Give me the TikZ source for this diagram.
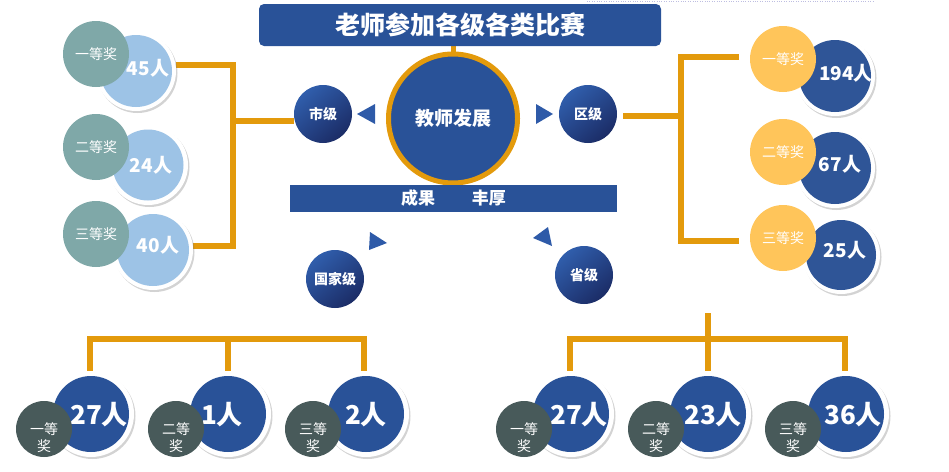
\documentclass[tikz,border=0pt]{standalone}
\usepackage{fontspec}
\setmainfont{Noto Sans CJK SC}
\usetikzlibrary{shadows,backgrounds}
\definecolor{navy}{RGB}{41,82,152}
\definecolor{orng}{RGB}{227,154,12}
\definecolor{ltblue}{RGB}{157,195,230}
\definecolor{tealc}{RGB}{127,168,168}
\definecolor{yel}{RGB}{255,197,90}
\definecolor{midblue}{RGB}{47,85,151}
\definecolor{slate}{RGB}{72,90,90}
\definecolor{balllt}{RGB}{48,94,172}
\definecolor{balldk}{RGB}{27,44,102}
\definecolor{trif}{RGB}{46,90,168}
\definecolor{dotc}{RGB}{190,190,225}
\begin{document}
\begin{tikzpicture}[x=1pt,y=-1pt,
  bar/.style={draw=orng, line width=6pt},
  ringc/.style={circle, fill=white, inner sep=0pt, minimum size=#1,
    drop shadow={opacity=0.35, shadow xshift=1.5pt, shadow yshift=-2pt}},
  disc/.style={circle, inner sep=0pt, minimum size=#1},
  lbl/.style={text=white, font=\fontsize{14}{17}\selectfont, align=center},
  numtxt/.style={text=white, font=\bfseries\fontsize{19}{21}\selectfont, inner sep=0pt},
  bignum/.style={text=white, font=\bfseries\fontsize{26}{28}\selectfont, inner sep=0pt},
  ball/.style={circle, minimum size=58pt, inner sep=0pt, top color=balllt, bottom color=balldk,
    shading angle=40, text=white, font=\bfseries\fontsize{14}{16}\selectfont},
  tri/.style={fill=trif}
]
\useasboundingbox (0,0) rectangle (949,471);
\draw[dotted, dotc] (587,1) -- (873,1);

% title and centre
\node[fill=navy, rounded corners=5pt, minimum width=402pt, minimum height=42pt, inner sep=0pt,
  text=white, font=\bfseries\fontsize{25}{27}\selectfont] (title) at (460,25) {老师参加各级各类比赛};
\node[circle, fill=navy, draw=orng, line width=5pt, minimum size=129pt, inner sep=0pt,
  text=white, font=\bfseries\fontsize{19}{21}\selectfont] (cen) at (453,118.5) {教师发展};
\node[fill=navy, minimum width=327pt, minimum height=27pt, inner sep=0pt,
  text=white, font=\bfseries\fontsize{17}{19}\selectfont] (band) at (453.5,198.5) {成果\hspace{37pt}丰厚};

% level balls
\node[ball] (shi) at (323,114) {市级};
\node[ball] (qu) at (588,114) {区级};
\node[ball] (guo) at (335,279) {国家级};
\node[ball] (sheng) at (584,275) {省级};

% triangles
\fill[tri] (357,114) -- (375,104) -- (375,124) -- cycle;
\fill[tri] (553,114) -- (536,104) -- (536,124) -- cycle;
\fill[tri] (370,232) -- (387,243) -- (369,250) -- cycle;
\fill[tri] (533,238) -- (548,227) -- (552,246) -- cycle;

% left group
\node[ringc=80pt] (a1r) at (136,71) {};
\node[disc=72pt, fill=ltblue] (a1) at (136,71) {};
\node[numtxt] (a1t) at (148,68) {45人};
\node[disc=66pt, fill=tealc, lbl] (a1l) at (96,54) {一等奖};

\node[ringc=80pt] (a2r) at (148,165) {};
\node[disc=71pt, fill=ltblue] (a2) at (148,165) {};
\node[numtxt] (a2t) at (151,165) {24人};
\node[disc=66pt, fill=tealc, lbl] (a2l) at (96,147) {二等奖};

\node[ringc=80pt] (a3r) at (153,250) {};
\node[disc=72pt, fill=ltblue] (a3) at (153,250) {};
\node[numtxt] (a3t) at (158,245) {40人};
\node[disc=66pt, fill=tealc, lbl] (a3l) at (96,234) {三等奖};

% right group
\node[ringc=80pt] (b1r) at (835,76) {};
\node[disc=72pt, fill=midblue] (b1) at (835,76) {};
\node[numtxt] (b1t) at (846,73) {194人};
\node[disc=66pt, fill=yel, lbl] (b1l) at (783,59) {一等奖};

\node[ringc=80pt] (b2r) at (835,168) {};
\node[disc=72pt, fill=midblue] (b2) at (835,168) {};
\node[numtxt] (b2t) at (840,164) {67人};
\node[disc=66pt, fill=yel, lbl] (b2l) at (783,152) {二等奖};

\node[ringc=78pt] (b3r) at (841,255) {};
\node[disc=70pt, fill=midblue] (b3) at (841,255) {};
\node[numtxt] (b3t) at (845,250) {25人};
\node[disc=66pt, fill=yel, lbl] (b3l) at (783,238) {三等奖};

% bottom-left group
\node[ringc=86pt] (c1r) at (91,414) {};
\node[disc=76pt, fill=navy] (c1) at (91,414) {};
\node[bignum] (c1t) at (99,415) {27人};
\node[disc=56pt, fill=slate] (c1l) at (44,429) {};
\node[lbl, inner sep=0pt] (c1lt) at (44,438) {一等\\奖};

\node[ringc=86pt] (c2r) at (228,414) {};
\node[disc=76pt, fill=navy] (c2) at (228,414) {};
\node[bignum] (c2t) at (222,415) {1人};
\node[disc=56pt, fill=slate] (c2l) at (176,429) {};
\node[lbl, inner sep=0pt] (c2lt) at (176,438) {二等\\奖};

\node[ringc=86pt] (c3r) at (366,414) {};
\node[disc=76pt, fill=navy] (c3) at (366,414) {};
\node[bignum] (c3t) at (366,415) {2人};
\node[disc=56pt, fill=slate] (c3l) at (313,429) {};
\node[lbl, inner sep=0pt] (c3lt) at (313,438) {三等\\奖};

% bottom-right group
\node[ringc=86pt] (d1r) at (571,414) {};
\node[disc=76pt, fill=navy] (d1) at (571,414) {};
\node[bignum] (d1t) at (579,415) {27人};
\node[disc=56pt, fill=slate] (d1l) at (524,429) {};
\node[lbl, inner sep=0pt] (d1lt) at (524,438) {一等\\奖};

\node[ringc=86pt] (d2r) at (708,414) {};
\node[disc=76pt, fill=navy] (d2) at (708,414) {};
\node[bignum] (d2t) at (713,415) {23人};
\node[disc=56pt, fill=slate] (d2l) at (656,429) {};
\node[lbl, inner sep=0pt] (d2lt) at (656,438) {二等\\奖};

\node[ringc=86pt] (d3r) at (846,414) {};
\node[disc=76pt, fill=navy] (d3) at (846,414) {};
\node[bignum] (d3t) at (853,415) {36人};
\node[disc=56pt, fill=slate] (d3l) at (793,429) {};
\node[lbl, inner sep=0pt] (d3lt) at (793,438) {三等\\奖};

% connector coordinates
\coordinate (lt) at (233,65);
\coordinate (lb) at (233,246);
\coordinate (lm) at (233,121);
\coordinate (rt) at (681,57);
\coordinate (rb) at (681,241);
\coordinate (rm) at (681,116);
\coordinate (rte) at (739,57);
\coordinate (rbe) at (739,241);
\coordinate (rme) at (623,116);
\coordinate (bl) at (90,339);
\coordinate (bm) at (228,339);
\coordinate (br) at (364,339);
\coordinate (dl) at (570,339);
\coordinate (dm) at (708,339);
\coordinate (dr) at (845,339);
\coordinate (dtop) at (708,313);

\begin{scope}[on background layer]
\draw[bar, line width=5pt] (title.south -| cen.north) -- (cen.north);
\draw[bar] (lt -| a1r.east) -- (lt) -- (lb) -- (lb -| a3r.east);
\draw[bar] (lm) -- (lm -| shi.west);
\draw[bar] (rte) -- (rt) -- (rb) -- (rbe);
\draw[bar] (rme) -- (rm);
\draw[bar] (bl |- c1r.north) -- (bl) -- (br) -- (br |- c3r.north);
\draw[bar] (bm) -- (bm |- c2r.north);
\draw[bar] (dl |- d1r.north) -- (dl) -- (dr) -- (dr |- d3r.north);
\draw[bar] (dtop) -- (dtop |- d2r.north);
\end{scope}
\end{tikzpicture}
\end{document}
